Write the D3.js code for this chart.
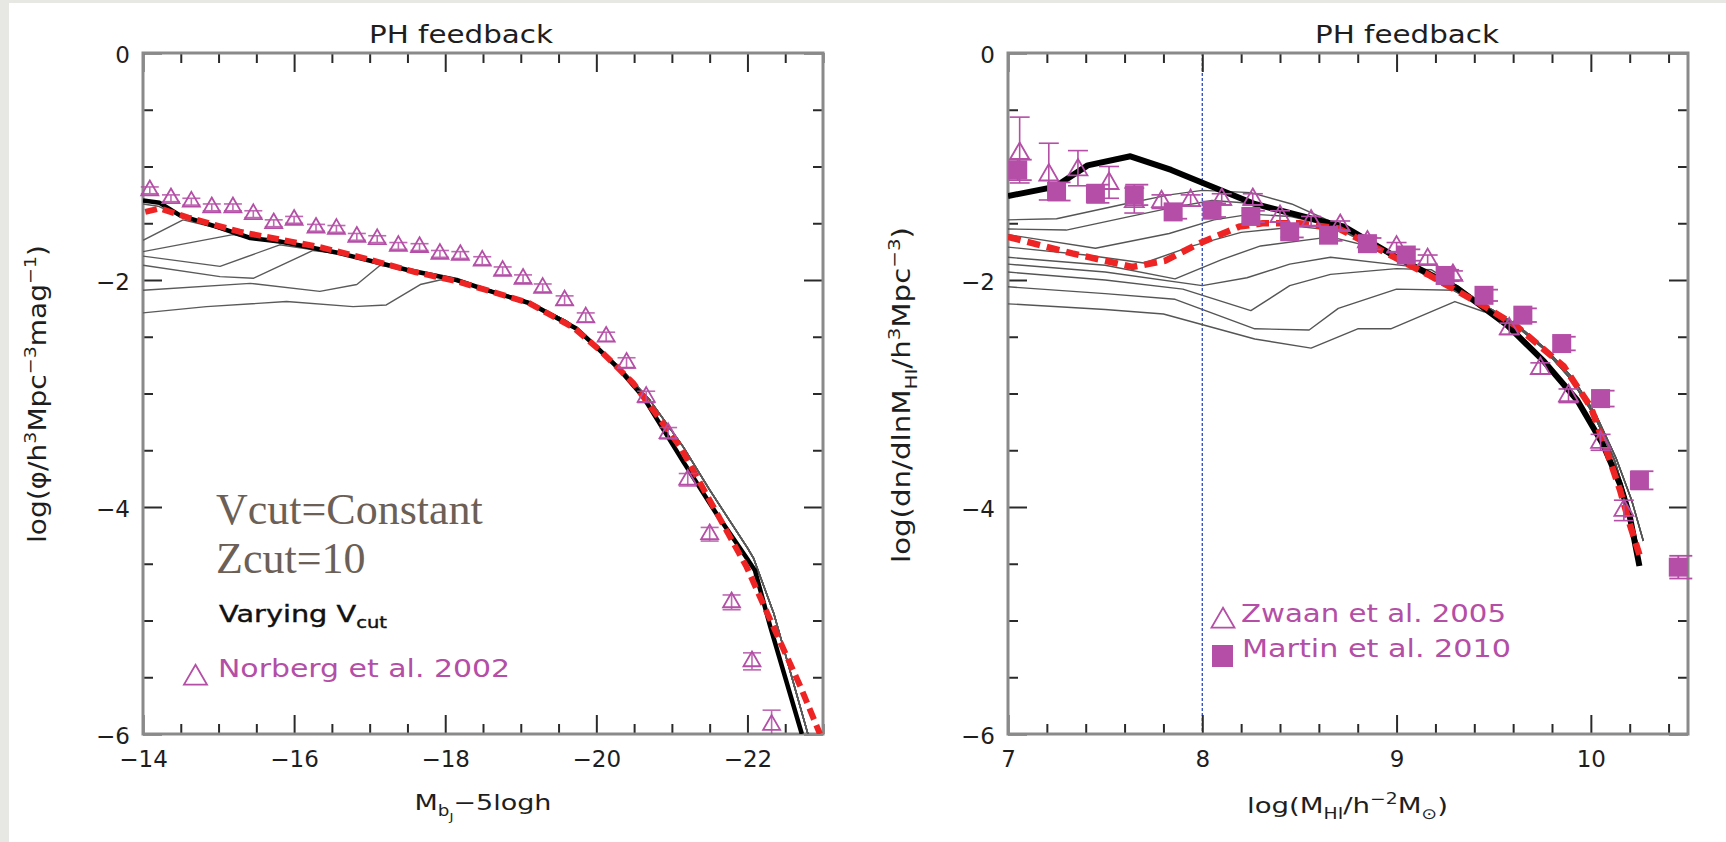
<!DOCTYPE html>
<html>
<head>
<meta charset="utf-8">
<script src="https://cdn.jsdelivr.net/npm/d3@7"></script>
<style>
  html, body { margin: 0; padding: 0; background: #e7e7e3; }
  svg { display: block; }
</style>
</head>
<body>
<svg id="fig" width="1726" height="842"></svg>
<script>
// ---------------- Left panel: bJ-band luminosity function ----------------
const lfXMajor = [-14, -16, -18, -20, -22];
const lfYMajor = [0, -2, -4, -6];

// Norberg et al. 2002 (open triangles)
const lfNorbergMag = [-14.09, -14.37, -14.64, -14.91, -15.19, -15.46, -15.73, -16.00, -16.29, -16.56,
  -16.83, -17.10, -17.38, -17.66, -17.93, -18.20, -18.49, -18.76, -19.03, -19.29, -19.58, -19.86,
  -20.13, -20.40, -20.66, -20.95, -21.21, -21.50, -21.79, -22.06, -22.32];
const lfNorbergLogPhi = [-1.21, -1.28, -1.31, -1.36, -1.36, -1.42, -1.50, -1.47, -1.54, -1.55,
  -1.62, -1.64, -1.70, -1.71, -1.77, -1.78, -1.83, -1.92, -1.99, -2.07, -2.18, -2.33,
  -2.50, -2.73, -3.03, -3.35, -3.76, -4.24, -4.84, -5.36, -5.92];
const lfNorbergErr = [0.03, 0.03, 0.03, 0.03, 0.03, 0.03, 0.03, 0.03, 0.03, 0.03,
  0.03, 0.03, 0.03, 0.03, 0.03, 0.03, 0.035, 0.035, 0.035, 0.035, 0.04, 0.04,
  0.04, 0.045, 0.05, 0.05, 0.055, 0.06, 0.065, 0.075, 0.13];

// Model curves: constant Vcut (black) and Zcut=10 (red dashed)
const lfModelBlack = [[-14, -1.30], [-14.22, -1.32], [-14.49, -1.43], [-14.97, -1.53], [-15.42, -1.63],
  [-15.81, -1.66], [-16.61, -1.765], [-17.49, -1.91], [-18.15, -2.0], [-18.55, -2.09], [-19.12, -2.205],
  [-19.74, -2.43], [-20.0, -2.59], [-20.31, -2.79], [-20.62, -3.03], [-21.15, -3.6], [-21.59, -4.06],
  [-21.99, -4.45], [-22.1, -4.56], [-22.3, -5.05], [-22.72, -6.0]];
const lfModelRed = [[-14.03, -1.40], [-14.22, -1.37], [-14.6, -1.45], [-15.28, -1.575], [-16.34, -1.71],
  [-17.0, -1.82], [-17.6, -1.93], [-18.15, -2.01], [-18.6, -2.1], [-19.1, -2.2], [-19.7, -2.42],
  [-20.05, -2.62], [-20.49, -2.91], [-21.11, -3.47], [-21.55, -4.0], [-21.99, -4.53], [-22.34, -5.05],
  [-22.7, -5.58], [-22.96, -6.0]];

// Varying Vcut runs (thin grey): their own bright-end departures ...
const lfGrayHeads = [
  [[-14, -1.33]],
  [[-14, -1.65], [-14.53, -1.47]],
  [[-14, -1.75], [-15.19, -1.60]],
  [[-14, -1.79], [-15.02, -1.88], [-15.81, -1.69]],
  [[-14, -1.87], [-15.02, -1.97], [-15.46, -1.985], [-16.25, -1.74]],
  [[-14, -2.09], [-15.42, -2.03], [-16.34, -2.10], [-16.83, -2.04], [-17.14, -1.87]],
  [[-14, -2.29], [-14.84, -2.235], [-15.90, -2.19], [-16.78, -2.235], [-17.22, -2.22], [-17.67, -2.04], [-17.93, -2.0]]
];
// ... and the common envelope they join
const lfGrayEnvelope = [[-14.2, -1.35], [-14.53, -1.45], [-14.97, -1.54], [-15.42, -1.63], [-15.81, -1.67],
  [-16.61, -1.77], [-17.49, -1.91], [-18.15, -2.0], [-18.55, -2.08], [-19.1, -2.19], [-19.6, -2.36],
  [-20.0, -2.58], [-20.35, -2.8], [-20.71, -3.06], [-21.15, -3.47], [-21.5, -3.85], [-22.0, -4.36],
  [-22.08, -4.45], [-22.35, -4.94], [-22.8, -6.0]];

// ---------------- Right panel: HI mass function ----------------
const himfXMajor = [7, 8, 9, 10];
const himfYMajor = [0, -2, -4, -6];

// Zwaan et al. 2005 (open triangles)
const himfZwaanLogM = [7.06, 7.21, 7.36, 7.52, 7.65, 7.79, 7.94, 8.10, 8.26, 8.40, 8.56, 8.71, 8.85,
  9.00, 9.16, 9.29, 9.58, 9.74, 9.885, 10.05, 10.17];
const himfZwaanLogPhi = [-0.885, -1.075, -1.03, -1.15, -1.31, -1.31, -1.30, -1.29, -1.29, -1.44, -1.48,
  -1.52, -1.665, -1.71, -1.82, -1.96, -2.43, -2.78, -3.02, -3.43, -4.03];
const himfZwaanErrUp = [0.32, 0.28, 0.17, 0.15, 0.12, 0.06, 0.05, 0.05, 0.05, 0.05, 0.04, 0.04, 0.04,
  0.04, 0.04, 0.04, 0.05, 0.05, 0.06, 0.07, 0.09];
const himfZwaanErrDown = [0.26, 0.22, 0.14, 0.13, 0.10, 0.06, 0.05, 0.05, 0.05, 0.05, 0.04, 0.04, 0.04,
  0.04, 0.04, 0.04, 0.05, 0.05, 0.06, 0.07, 0.09];

// Martin et al. 2010 (filled squares)
const himfMartinLogM = [7.05, 7.25, 7.45, 7.65, 7.85, 8.05, 8.25, 8.45, 8.65, 8.85, 9.05, 9.25, 9.45,
  9.65, 9.85, 10.05, 10.25, 10.45];
const himfMartinLogPhi = [-1.03, -1.22, -1.24, -1.25, -1.40, -1.385, -1.44, -1.575, -1.605, -1.68, -1.78,
  -1.96, -2.135, -2.31, -2.56, -3.045, -3.765, -4.53];
const himfMartinErr = [0.09, 0.08, 0.08, 0.09, 0.06, 0.06, 0.05, 0.05, 0.05, 0.05, 0.05, 0.05, 0.05,
  0.06, 0.06, 0.07, 0.08, 0.1];

const himfModelBlack = [[7, -1.26], [7.24, -1.18], [7.41, -0.99], [7.63, -0.91], [7.84, -1.03], [8.01, -1.15],
  [8.27, -1.33], [8.61, -1.48], [8.73, -1.53], [9.0, -1.80], [9.31, -2.07], [9.57, -2.40], [9.76, -2.72],
  [9.93, -3.06], [10.06, -3.44], [10.15, -3.8], [10.2, -4.08], [10.25, -4.52]];
const himfModelRed = [[7, -1.62], [7.16, -1.69], [7.33, -1.765], [7.64, -1.885], [7.81, -1.83], [7.98, -1.68],
  [8.19, -1.53], [8.31, -1.50], [8.5, -1.50], [8.7, -1.545], [8.91, -1.73], [9.17, -1.96], [9.45, -2.23],
  [9.62, -2.41], [9.86, -2.76], [10.0, -3.12], [10.08, -3.5], [10.15, -3.85], [10.2, -4.15], [10.25, -4.42]];

const himfGrayHeads = [
  [[7, -1.47], [7.25, -1.46], [7.6, -1.33], [7.83, -1.25], [8.0, -1.21], [8.25, -1.23], [8.46, -1.33], [8.68, -1.50], [8.9, -1.71], [9.15, -1.95], [9.4, -2.18]],
  [[7, -1.55], [7.3, -1.56], [7.6, -1.45], [7.85, -1.36], [8.05, -1.30], [8.3, -1.33], [8.55, -1.45], [8.72, -1.55], [8.9, -1.72], [9.15, -1.96], [9.4, -2.19]],
  [[7, -1.60], [7.45, -1.72], [7.83, -1.59], [8.06, -1.47], [8.25, -1.42], [8.45, -1.44], [8.68, -1.53], [8.9, -1.72], [9.15, -1.95], [9.4, -2.18]],
  [[7, -1.71], [7.4, -1.78], [7.7, -1.85], [7.95, -1.70], [8.2, -1.58], [8.5, -1.53], [8.72, -1.57], [8.92, -1.74], [9.15, -1.96], [9.4, -2.19]],
  [[7, -1.80], [7.5, -1.87], [7.86, -1.99], [8.1, -1.82], [8.3, -1.70], [8.66, -1.62], [8.9, -1.72], [9.1, -1.87], [9.3, -2.05]],
  [[7, -1.86], [7.5, -1.93], [8.0, -2.05], [8.23, -1.98], [8.45, -1.86], [8.66, -1.80], [9.07, -1.88], [9.25, -2.02], [9.4, -2.17]],
  [[7, -1.93], [7.5, -2.0], [7.9, -2.08], [8.25, -2.27], [8.45, -2.05], [8.66, -1.95], [9.0, -1.90], [9.18, -1.91], [9.32, -2.06]],
  [[7, -2.06], [7.5, -2.12], [7.86, -2.17], [8.27, -2.43], [8.55, -2.44], [8.70, -2.25], [9.0, -2.08], [9.3, -2.09], [9.45, -2.22]],
  [[7, -2.21], [7.5, -2.26], [7.8, -2.30], [8.27, -2.52], [8.56, -2.60], [8.80, -2.43], [8.97, -2.43], [9.30, -2.19], [9.45, -2.28]]
];
const himfGrayTailA = [[9.5, -2.28], [9.62, -2.41], [9.76, -2.61], [9.9, -2.88], [10.02, -3.2], [10.12, -3.58], [10.19, -3.97], [10.25, -4.4]];
const himfGrayTailB = [[9.5, -2.27], [9.63, -2.41], [9.77, -2.61], [9.91, -2.87], [10.03, -3.2], [10.13, -3.57], [10.21, -3.94], [10.27, -4.3]];

// ---------------- Drawing ----------------
const MAGENTA = "#b44ea6";
const RED = "#ee2424";
const svg = d3.select("#fig");

svg.append("rect").attr("x", 0).attr("y", 0).attr("width", 1726).attr("height", 842).attr("fill", "#e7e7e3");
svg.append("rect").attr("x", 9).attr("y", 3).attr("width", 1717).attr("height", 839).attr("fill", "#ffffff");

function richText(sel, parts, size) {
  let shift = 0;
  parts.forEach(([txt, kind]) => {
    const target = kind === "sup" ? -0.42 * size : kind === "sub" ? 0.28 * size : kind === "sub2" ? 0.48 * size : 0;
    const fs = kind === "sub2" ? size * 0.5 : kind ? size * 0.68 : size;
    sel.append("tspan").attr("dy", target - shift).attr("font-size", fs).text(txt);
    shift = target;
  });
}

function panel(cfg) {
  const g = svg.append("g");
  const x = d3.scaleLinear().domain(cfg.xDomain).range([cfg.left, cfg.right]);
  const y = d3.scaleLinear().domain([0, -6]).range([cfg.top, cfg.bottom]);
  const line = d3.line().x(d => x(d[0])).y(d => y(d[1]));

  const clipId = "clip" + cfg.id;
  svg.append("clipPath").attr("id", clipId).append("rect")
    .attr("x", cfg.left).attr("y", cfg.top).attr("width", cfg.right - cfg.left).attr("height", cfg.bottom - cfg.top);

  // Axes with inward ticks on all four sides
  const fmt = d3.format("d");
  function axis(fn, scale, values, size, labelled, transform, pad) {
    const a = fn(scale).tickValues(values).tickSize(size).tickSizeOuter(0).tickPadding(pad || 0)
      .tickFormat(labelled ? fmt : () => "");
    const s = g.append("g").attr("transform", transform).call(a);
    s.select(".domain").remove();
    s.selectAll(".tick line").attr("stroke", "#2a2a2a").attr("stroke-width", 2);
    s.selectAll(".tick text").attr("font-family", "DejaVu Sans").attr("font-size", 23).attr("fill", "#1e1e1e");
    return s;
  }
  const xMinor = cfg.xMinor.filter(v => !cfg.xMajor.includes(v));
  const yMinor = d3.range(-0.5, -6, -0.5).filter(v => !cfg.yMajor.includes(v));

  axis(d3.axisBottom, x, cfg.xMajor, -19, true, `translate(0,${cfg.bottom})`, 17);
  axis(d3.axisBottom, x, xMinor, -10, false, `translate(0,${cfg.bottom})`);
  axis(d3.axisTop, x, cfg.xMajor, -19, false, `translate(0,${cfg.top})`);
  axis(d3.axisTop, x, xMinor, -10, false, `translate(0,${cfg.top})`);
  axis(d3.axisLeft, y, cfg.yMajor, -19, true, `translate(${cfg.left},0)`, 13)
    .selectAll(".tick text").attr("dy", "0.42em");
  axis(d3.axisLeft, y, yMinor, -10, false, `translate(${cfg.left},0)`);
  axis(d3.axisRight, y, cfg.yMajor, -19, false, `translate(${cfg.right},0)`);
  axis(d3.axisRight, y, yMinor, -10, false, `translate(${cfg.right},0)`);

  g.append("rect").attr("x", cfg.left).attr("y", cfg.top)
    .attr("width", cfg.right - cfg.left).attr("height", cfg.bottom - cfg.top)
    .attr("fill", "none").attr("stroke", "#8a8a8a").attr("stroke-width", 3);

  // Title
  g.append("text").attr("x", cfg.titleX).attr("y", 43).attr("text-anchor", "middle")
    .attr("font-family", "DejaVu Sans").attr("font-size", 25).attr("fill", "#1e1e1e")
    .attr("textLength", 184).attr("lengthAdjust", "spacingAndGlyphs").text("PH feedback");

  // Axis titles
  const xl = g.append("text").attr("x", cfg.xLabel.cx).attr("y", cfg.xLabel.y).attr("text-anchor", "middle")
    .attr("font-family", "DejaVu Sans").attr("font-size", 22).attr("fill", "#1e1e1e")
    .attr("textLength", cfg.xLabel.len).attr("lengthAdjust", "spacingAndGlyphs");
  richText(xl, cfg.xLabel.parts, 22);
  const yl = g.append("text").attr("transform", `translate(${cfg.yLabel.x},${cfg.yLabel.cy}) rotate(-90)`)
    .attr("text-anchor", "middle").attr("font-family", "DejaVu Sans").attr("font-size", 24).attr("fill", "#1e1e1e")
    .attr("textLength", cfg.yLabel.len).attr("lengthAdjust", "spacingAndGlyphs");
  richText(yl, cfg.yLabel.parts, 24);

  const plot = g.append("g").attr("clip-path", `url(#${clipId})`);
  return { g, plot, x, y, line };
}

// ---- Left panel ----
const L = panel({
  id: "L", left: 143, right: 823, top: 53, bottom: 734,
  xDomain: [-14, -23], xMajor: lfXMajor, xMinor: d3.range(-14, -23.01, -0.5), yMajor: lfYMajor,
  titleX: 461,
  xLabel: { cx: 483, y: 810, len: 137, parts: [["M"], ["b", "sub"], ["J", "sub2"], ["\u22125logh"]] },
  yLabel: { x: 46, cy: 394, len: 298, parts: [["log(\u03c6/h"], ["3", "sup"], ["Mpc"], ["\u22123", "sup"], ["mag"], ["\u22121", "sup"], [")"]] }
});

lfGrayHeads.forEach(head => {
  const last = head[head.length - 1][0];
  const pts = head.concat(lfGrayEnvelope.filter(p => p[0] < last - 0.05));
  L.plot.append("path").attr("d", L.line(pts)).attr("fill", "none")
    .attr("stroke", "#5a5a5a").attr("stroke-width", 1.4).attr("stroke-linejoin", "round");
});
L.plot.append("path").attr("d", L.line(lfModelBlack)).attr("fill", "none")
  .attr("stroke", "#000").attr("stroke-width", 4.5).attr("stroke-linejoin", "round");
L.plot.append("path").attr("d", L.line(lfModelRed)).attr("fill", "none")
  .attr("stroke", RED).attr("stroke-width", 6).attr("stroke-dasharray", "12,6");

const triL = d3.symbol(d3.symbolTriangle, 125);
lfNorbergMag.forEach((m, i) => {
  const cx = L.x(m), v = lfNorbergLogPhi[i], e = lfNorbergErr[i];
  const y1 = L.y(v + e), y2 = L.y(v - e);
  const eg = L.g.append("g").attr("stroke", MAGENTA).attr("stroke-width", 1.6).attr("opacity", 0.85);
  eg.append("line").attr("x1", cx).attr("x2", cx).attr("y1", y1).attr("y2", Math.min(y2, 734));
  eg.append("line").attr("x1", cx - 9).attr("x2", cx + 9).attr("y1", y1).attr("y2", y1);
  if (y2 < 734) eg.append("line").attr("x1", cx - 9).attr("x2", cx + 9).attr("y1", y2).attr("y2", y2);
  L.g.append("path").attr("d", triL()).attr("transform", `translate(${cx},${L.y(v)})`)
    .attr("fill", "none").attr("stroke", MAGENTA).attr("stroke-width", 1.8);
});

// Annotations
L.g.append("text").attr("x", 216).attr("y", 524).attr("font-family", "Liberation Serif")
  .attr("font-size", 44).attr("fill", "#6c6056").text("Vcut=Constant");
L.g.append("text").attr("x", 216).attr("y", 573).attr("font-family", "Liberation Serif")
  .attr("font-size", 44).attr("fill", "#6c6056").text("Zcut=10");
const vary = L.g.append("text").attr("x", 219).attr("y", 622).attr("font-family", "DejaVu Sans")
  .attr("font-size", 23).attr("fill", "#111").attr("stroke", "#111").attr("stroke-width", 0.4)
  .attr("textLength", 168).attr("lengthAdjust", "spacingAndGlyphs");
richText(vary, [["Varying V"], ["cut", "sub"]], 23);

L.g.append("path").attr("d", d3.symbol(d3.symbolTriangle, 229)()).attr("transform", "translate(195.5,678)")
  .attr("fill", "none").attr("stroke", MAGENTA).attr("stroke-width", 1.8);
L.g.append("text").attr("x", 218).attr("y", 677).attr("font-family", "DejaVu Sans").attr("font-size", 24)
  .attr("fill", MAGENTA).attr("textLength", 292).attr("lengthAdjust", "spacingAndGlyphs").text("Norberg et al. 2002");

// ---- Right panel ----
const R = panel({
  id: "R", left: 1008, right: 1688, top: 53, bottom: 734,
  xDomain: [7, 10.5], xMajor: himfXMajor, xMinor: d3.range(7, 10.501, 0.2).map(v => +v.toFixed(1)), yMajor: himfYMajor,
  titleX: 1407,
  xLabel: { cx: 1347.5, y: 813, len: 201, parts: [["log(M"], ["HI", "sub"], ["/h"], ["\u22122", "sup"], ["M"], ["\u2299", "sub"], [")"]] },
  yLabel: { x: 910, cy: 395, len: 336, parts: [["log(dn/dlnM"], ["HI", "sub"], ["/h"], ["3", "sup"], ["Mpc"], ["\u22123", "sup"], [")"]] }
});

R.g.insert("line", ":first-child").attr("x1", R.x(8)).attr("x2", R.x(8)).attr("y1", 53).attr("y2", 734)
  .attr("stroke", "#2a48c0").attr("stroke-width", 1.3).attr("stroke-dasharray", "3,2");

himfGrayHeads.forEach((head, i) => {
  const pts = head.concat(i % 2 ? himfGrayTailB : himfGrayTailA);
  R.plot.append("path").attr("d", R.line(pts)).attr("fill", "none")
    .attr("stroke", "#555").attr("stroke-width", 1.4).attr("stroke-linejoin", "round");
});
R.plot.append("path").attr("d", R.line(himfModelBlack)).attr("fill", "none")
  .attr("stroke", "#000").attr("stroke-width", 6).attr("stroke-linejoin", "round");
R.plot.append("path").attr("d", R.line(himfModelRed)).attr("fill", "none")
  .attr("stroke", RED).attr("stroke-width", 6.5).attr("stroke-dasharray", "13,7");

const triR = d3.symbol(d3.symbolTriangle, 156);
himfZwaanLogM.forEach((m, i) => {
  const cx = R.x(m), v = himfZwaanLogPhi[i];
  const y1 = R.y(v + himfZwaanErrUp[i]), y2 = R.y(v - himfZwaanErrDown[i]);
  const eg = R.g.append("g").attr("stroke", MAGENTA).attr("stroke-width", 1.6);
  eg.append("line").attr("x1", cx).attr("x2", cx).attr("y1", y1).attr("y2", y2);
  eg.append("line").attr("x1", cx - 10).attr("x2", cx + 10).attr("y1", y1).attr("y2", y1);
  eg.append("line").attr("x1", cx - 10).attr("x2", cx + 10).attr("y1", y2).attr("y2", y2);
  R.g.append("path").attr("d", triR()).attr("transform", `translate(${cx},${R.y(v)})`)
    .attr("fill", "none").attr("stroke", MAGENTA).attr("stroke-width", 1.8);
});

const SQ = 19;
himfMartinLogM.forEach((m, i) => {
  const cx = R.x(m), v = himfMartinLogPhi[i], e = himfMartinErr[i];
  const y1 = R.y(v + e), y2 = R.y(v - e);
  const eg = R.g.append("g").attr("stroke", MAGENTA).attr("stroke-width", 1.8);
  eg.append("line").attr("x1", cx).attr("x2", cx).attr("y1", y1).attr("y2", y2);
  eg.append("line").attr("x1", cx - 9).attr("x2", cx + 14).attr("y1", y1).attr("y2", y1);
  eg.append("line").attr("x1", cx - 9).attr("x2", cx + 14).attr("y1", y2).attr("y2", y2);
  R.g.append("rect").attr("x", cx - SQ / 2).attr("y", R.y(v) - SQ / 2).attr("width", SQ).attr("height", SQ)
    .attr("fill", MAGENTA);
});

// Legend
R.g.append("path").attr("d", d3.symbol(d3.symbolTriangle, 229)()).attr("transform", "translate(1223,621)")
  .attr("fill", "none").attr("stroke", MAGENTA).attr("stroke-width", 1.8);
R.g.append("text").attr("x", 1241).attr("y", 622).attr("font-family", "DejaVu Sans").attr("font-size", 24)
  .attr("fill", MAGENTA).attr("textLength", 265).attr("lengthAdjust", "spacingAndGlyphs").text("Zwaan et al. 2005");
R.g.append("rect").attr("x", 1212).attr("y", 645).attr("width", 21).attr("height", 22).attr("fill", MAGENTA);
R.g.append("text").attr("x", 1242).attr("y", 657).attr("font-family", "DejaVu Sans").attr("font-size", 24)
  .attr("fill", MAGENTA).attr("textLength", 269).attr("lengthAdjust", "spacingAndGlyphs").text("Martin et al. 2010");
</script>
</body>
</html>
